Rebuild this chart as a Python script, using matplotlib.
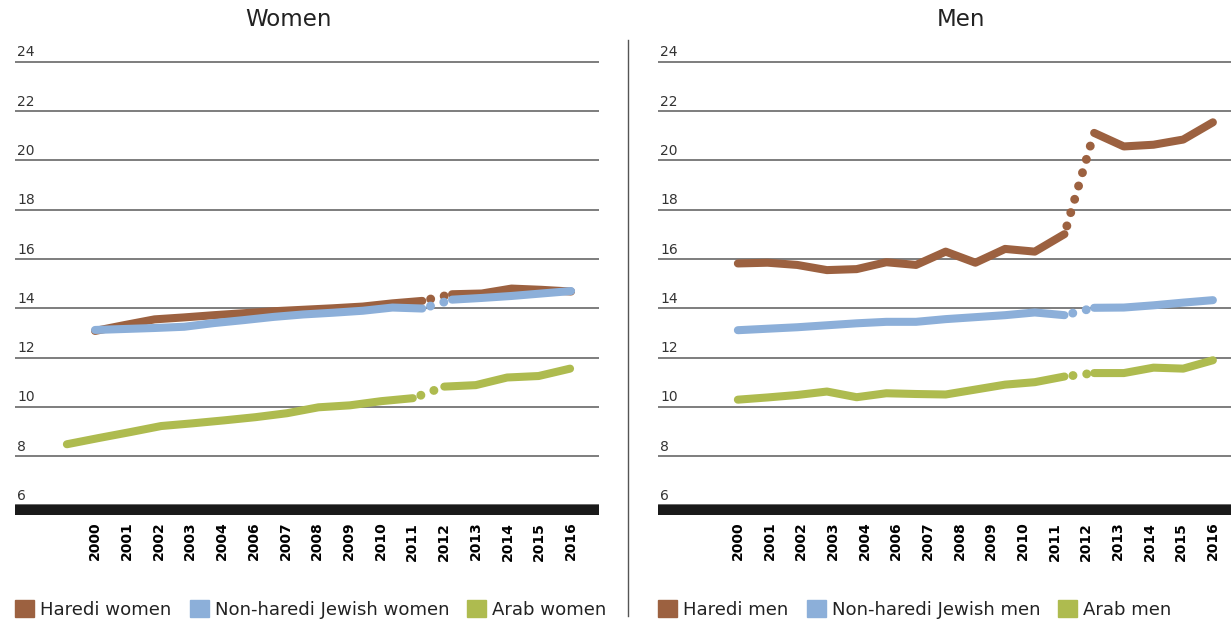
import numpy as np
import matplotlib.pyplot as plt
from matplotlib.patches import Patch
from matplotlib.lines import Line2D

# data: years 2000-2016 (the axis labels skip 2005)
years = list(range(2000, 2017))
tick_labels = ["2000", "2001", "2002", "2003", "2004", "2006", "2007", "2008",
               "2009", "2010", "2011", "2012", "2013", "2014", "2015", "2016"]
y_ticks = list(range(6, 25, 2))

haredi_women = [13.08, 13.32, 13.55, 13.63, 13.72, 13.80, 13.88, 13.94, 14.00,
                14.07, 14.20, 14.30, 14.57, 14.60, 14.80, 14.75, 14.68]
nonharedi_women = [13.12, 13.16, 13.20, 13.25, 13.40, 13.52, 13.65, 13.75, 13.82,
                   13.90, 14.03, 13.99, 14.35, 14.42, 14.50, 14.60, 14.70]
arab_women = [8.48, 8.73, 8.97, 9.22, 9.33, 9.45, 9.58, 9.74, 9.98,
              10.06, 10.23, 10.35, 10.82, 10.88, 11.19, 11.25, 11.55]

haredi_men = [15.82, 15.85, 15.76, 15.55, 15.59, 15.87, 15.76, 16.30, 15.85,
              16.41, 16.30, 17.01, 21.12, 20.57, 20.64, 20.85, 21.55]
nonharedi_men = [13.11, 13.17, 13.23, 13.31, 13.39, 13.45, 13.45, 13.56, 13.64,
                 13.72, 13.83, 13.72, 14.02, 14.03, 14.12, 14.23, 14.33]
arab_men = [10.29, 10.38, 10.48, 10.62, 10.39, 10.55, 10.52, 10.50, 10.70,
            10.90, 11.00, 11.23, 11.37, 11.37, 11.59, 11.55, 11.89]

brown = "#9c6140"
blue = "#8cafd9"
green = "#aebb4f"
LW = 5.8

W, H = 1231, 622
fig = plt.figure(figsize=(W / 100, H / 100), dpi=100)


def add_axes(x0, x1, y_top, y_bot):
    return fig.add_axes([x0 / W, 1 - y_bot / H, (x1 - x0) / W, (y_bot - y_top) / H])


def draw_series(ax, x, y, color):
    # solid up to 2011, dotted 2011-2012, solid afterwards
    ax.plot(x[:12], y[:12], color=color, lw=LW, solid_capstyle="round",
            solid_joinstyle="round")
    ax.plot(x[11:13], y[11:13], color=color, lw=6.4,
            linestyle=(0.6, (0.01, 1.55)), dash_capstyle="round")
    ax.plot(x[12:], y[12:], color=color, lw=LW, solid_capstyle="round",
            solid_joinstyle="round")


def style_axes(ax, xmax):
    ax.set_xlim(1997.31, xmax)
    ax.set_ylim(5.62, 24.1)
    ax.set_yticks(y_ticks)
    ax.grid(axis="y", color="#5a5a5a", lw=1.1)
    ax.set_axisbelow(True)
    ax.axhspan(5.62, 6.0, color="#1a1a1a", zorder=1)
    for s in ax.spines.values():
        s.set_visible(False)
    ax.tick_params(axis="y", length=0, labelleft=False)
    ax.set_xticks(np.linspace(2000, 2016, 16))
    ax.set_xticklabels(tick_labels, rotation=90, fontweight="bold", fontsize=10)
    ax.tick_params(axis="x", length=0, pad=5)
    for v in y_ticks:
        ax.text(0.004, v + 0.1, str(v), transform=ax.get_yaxis_transform(),
                ha="left", va="bottom", fontsize=10, color="#333333")


# Women
ax1 = add_axes(15, 599, 59.5, 514.7)
style_axes(ax1, 2016.94)
draw_series(ax1, years, haredi_women, brown)
draw_series(ax1, years, nonharedi_women, blue)
# Arab women series sits on its own (secondary) category axis
ax1b = ax1.twiny()
ax1b.set_xlim(1998.35, 2016.92)
ax1b.axis("off")
draw_series(ax1b, years, arab_women, green)

# Men
ax2 = add_axes(658, 1231, 59.5, 514.7)
style_axes(ax2, 2016.61)
draw_series(ax2, years, haredi_men, brown)
draw_series(ax2, years, nonharedi_men, blue)
draw_series(ax2, years, arab_men, green)

fig.text(288 / W, 1 - 20 / H, "Women", ha="center", va="center",
         fontsize=16.5, color="#222222")
fig.text(961 / W, 1 - 20 / H, "Men", ha="center", va="center",
         fontsize=16.5, color="#222222")

fig.add_artist(Line2D([628 / W, 628 / W], [1 - 40 / H, 1 - 616 / H],
                      color="#555555", lw=1))

legend_kw = dict(loc="lower left", ncol=3, frameon=False, fontsize=13.1,
                 handlelength=1.05, handleheight=1.05, handletextpad=0.33,
                 columnspacing=1.0, borderpad=0, borderaxespad=0,
                 labelcolor="#222222")
fig.legend(handles=[Patch(color=brown, label="Haredi women"),
                    Patch(color=blue, label="Non-haredi Jewish women"),
                    Patch(color=green, label="Arab women")],
           bbox_to_anchor=(15 / W, 3 / H), **legend_kw)
fig.legend(handles=[Patch(color=brown, label="Haredi men"),
                    Patch(color=blue, label="Non-haredi Jewish men"),
                    Patch(color=green, label="Arab men")],
           bbox_to_anchor=(658 / W, 3 / H), **legend_kw)

fig.savefig("out.png", dpi=100)
